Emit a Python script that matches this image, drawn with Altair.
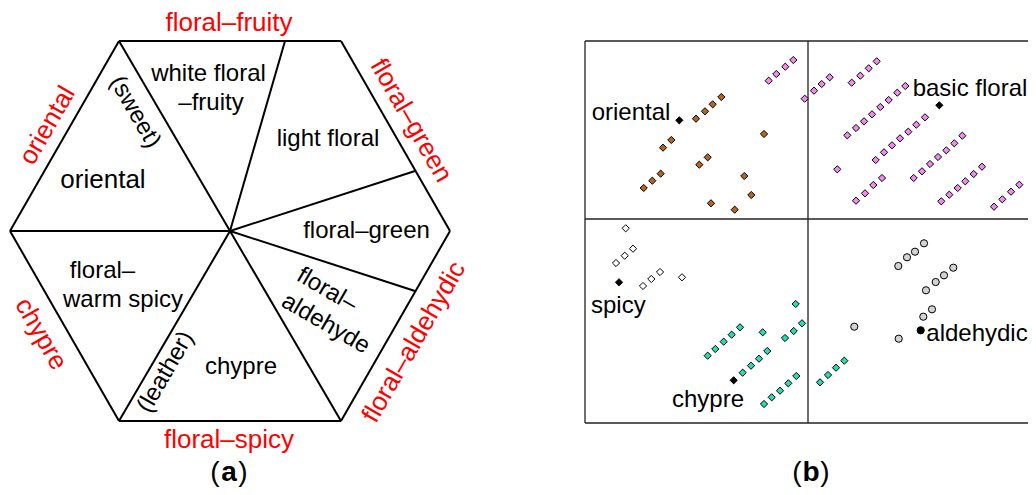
import altair as alt
import pandas as pd

# ---------------- panel (a): hexagon geometry (reference pixel units) -------------
hex_x = [119, 341, 450, 341, 119, 10]
hex_y = [43, 43, 233, 423, 423, 233]
center_x, center_y = 230, 233
spoke_x = [119, 285, 415, 415, 341, 119, 10]
spoke_y = [43, 43, 173, 293, 423, 423, 233]

# ---------------- panel (b): frame ----------------
box_left, box_right, box_top, box_bottom = 585, 1045, 43, 425
div_x, div_y = 808, 221

# ---------------- panel (b): scatter data ----------------
oriental_x = [696, 705, 712.7, 721.3, 663, 671.3, 764, 699.3, 707.7, 643.7, 652.3, 660.7, 744.3, 751.3, 711, 734.7]
oriental_y = [120.7, 113.3, 106.3, 99, 149.7, 142, 136, 166.7, 159.3, 190, 182.7, 175.7, 178, 197, 205.3, 211.7]

floral_x = [768.7, 776.3, 785.3, 793.3, 804.7, 814, 821.7, 829.7, 851.7, 860.3, 868.7, 876.7,
            847.3, 856, 864, 872, 880.3, 888.7, 897.3, 905.3,
            875.7, 884, 892, 900, 908.3, 916.3, 925,
            837.3,
            856, 865, 873.3, 882,
            913.7, 922, 930, 938, 946.3, 954.3, 962.3,
            941.3, 949.3, 957.7, 965.3, 973.7, 982,
            994, 1002.3, 1011, 1019.3]
floral_y = [82.7, 76, 68.7, 62, 100.7, 92.7, 86, 79.3, 84.7, 77.7, 70.3, 63.3,
            137.3, 130, 123.3, 116.3, 109, 102, 94.7, 88,
            162, 154.3, 147.3, 140.3, 133.7, 126.7, 119.3,
            171.3,
            202.7, 195.3, 187, 180,
            180, 173.3, 166, 159, 152.3, 145.3, 137.7,
            203.3, 196.7, 190, 183.3, 176, 168.7,
            208.7, 201.3, 193.7, 186.7]

spicy_x = [625.7, 616, 624.7, 633, 643, 651.3, 660, 682]
spicy_y = [230.3, 265, 257.7, 250.7, 288, 281, 274, 279.3]

chypre_x = [795.7, 802, 793.7, 785, 762.7, 707.7, 715.3, 723.7, 731.7, 740,
            742.7, 751, 759, 767.3, 764, 771.7, 780, 788.3, 796.3,
            820, 828, 836, 844.3]
chypre_y = [306, 325.3, 333, 340, 334.3, 357.7, 351, 343.7, 336.7, 329.3,
            374.7, 367.7, 360.7, 353, 406, 399.3, 392.7, 385.3, 378,
            384.3, 377, 369.7, 362.7]

aldehydic_x = [854.3, 898.3, 907, 915, 924, 926, 935.7, 944, 953.3, 923.3, 932, 898.7]
aldehydic_y = [328.7, 268, 259.3, 253.7, 245.3, 292.3, 284, 277.3, 269.7, 318.7, 311.3, 340.7]

ref_names = ["oriental", "basic floral", "spicy", "chypre", "aldehydic"]
ref_x = [679.3, 939.3, 619, 733.7, 920.7]
ref_y = [122.3, 107.3, 284.3, 382.3, 332.3]

# ---------------- texts ----------------
flat_labels = ["floral–fruity", "floral–spicy",
               "white floral", "–fruity", "oriental", "light floral", "floral–green",
               "floral–", "warm spicy", "chypre",
               "oriental", "basic floral", "spicy", "chypre", "aldehydic",
               "(", ")", "(", ")"]
flat_x = [229, 229, 208.5, 211, 103, 328, 366.5, 102.5, 123, 241,
          631, 970, 618.3, 708, 977, 215, 243, 797, 825]
flat_y = [33, 450, 83, 112, 190, 148, 240, 280, 309, 376,
          122, 98, 315, 409, 343, 483, 483, 483, 483]
flat_size = [26, 26, 24, 24, 26, 24, 24, 24, 24, 24,
             24, 24, 24, 24, 24, 28, 28, 28, 28]
flat_red = [True, True] + [False] * 17

rot_labels = ["oriental", "floral–green", "floral–aldehydic", "chypre",
              "(sweet)", "(leather)", "floral–", "aldehyde"]
rot_x = [47.5, 411, 414, 41, 135, 165.7, 327, 325.7]
rot_y = [127.5, 122.5, 344, 336, 114, 374, 292, 325.7]
rot_angle = [300, 60, 300, 60, 60, 300, 30, 30]
rot_red = [True, True, True, True, False, False, False, False]

bold_labels = ["a", "b"]
bold_x = [229, 811]
bold_y = [483, 483]

# ---------------- build tables ----------------
RED, BLACK = "#ff0000", "#000000"

seg_rows = []
n = len(hex_x)
for i in range(n):
    seg_rows.append(dict(x=hex_x[i], y=hex_y[i], x2=hex_x[(i + 1) % n], y2=hex_y[(i + 1) % n]))
for sx, sy in zip(spoke_x, spoke_y):
    seg_rows.append(dict(x=center_x, y=center_y, x2=sx, y2=sy))
segs = pd.DataFrame(seg_rows)

box = pd.DataFrame([
    dict(x=box_left, y=box_top, x2=box_right, y2=box_top),
    dict(x=box_left, y=box_bottom, x2=box_right, y2=box_bottom),
    dict(x=box_left, y=box_top, x2=box_left, y2=box_bottom),
    dict(x=div_x, y=box_top, x2=div_x, y2=box_bottom),
    dict(x=box_left, y=div_y, x2=box_right, y2=div_y),
])

pt_rows = []
def add(xs, ys, fill, shape):
    for a, b in zip(xs, ys):
        pt_rows.append(dict(x=a, y=b, fill=fill, shape=shape))
add(floral_x, floral_y, "#f28cf2", "diamond")
add(oriental_x, oriental_y, "#b5651d", "diamond")
add(spicy_x, spicy_y, "#ffffff", "diamond")
add(chypre_x, chypre_y, "#22dfb5", "diamond")
add(aldehydic_x, aldehydic_y, "#d3d3d3", "circle")
add(ref_x[:4], ref_y[:4], "#000000", "diamond")
add(ref_x[4:], ref_y[4:], "#000000", "circle")
pts = pd.DataFrame(pt_rows)

flat = pd.DataFrame(dict(label=flat_labels, x=flat_x, y=flat_y,
                         col=[RED if r else BLACK for r in flat_red],
                         fs=flat_size))
rot = pd.DataFrame(dict(label=rot_labels, x=rot_x, y=rot_y, ang=rot_angle,
                        col=[RED if r else BLACK for r in rot_red],
                        fs=[26 if r else 24 for r in rot_red]))
bold = pd.DataFrame(dict(label=bold_labels, x=bold_x, y=bold_y))

# ---------------- scales ----------------
W, H = 1020, 479
Y0 = 10
xs = alt.Scale(domain=[8, 8 + W], nice=False, zero=False)
ys = alt.Scale(domain=[Y0, Y0 + H], nice=False, zero=False, reverse=True)

def X(f="x"):
    return alt.X(f"{f}:Q", scale=xs, axis=None)

def Y(f="y"):
    return alt.Y(f"{f}:Q", scale=ys, axis=None)

FONT = "Liberation Sans"

hexagon = alt.Chart(segs).mark_rule(color="black", strokeWidth=2).encode(
    x=X(), y=Y(), x2="x2:Q", y2="y2:Q")
frame = alt.Chart(box).mark_rule(color="#222222", strokeWidth=1.3).encode(
    x=X(), y=Y(), x2="x2:Q", y2="y2:Q")
points = alt.Chart(pts).mark_point(filled=True, stroke="black", strokeWidth=1,
                                   size=52, opacity=1).encode(
    x=X(), y=Y(),
    fill=alt.Fill("fill:N", scale=None),
    shape=alt.Shape("shape:N", scale=None))
flat_text = alt.Chart(flat).mark_text(font=FONT, baseline="alphabetic", align="center").encode(
    x=X(), y=Y(), text="label:N",
    color=alt.Color("col:N", scale=None),
    size=alt.Size("fs:Q", scale=None))
rot_text = alt.Chart(rot).mark_text(font=FONT, baseline="middle", align="center").encode(
    x=X(), y=Y(), text="label:N",
    angle=alt.Angle("ang:Q", scale=None),
    color=alt.Color("col:N", scale=None),
    size=alt.Size("fs:Q", scale=None))
bold_text = alt.Chart(bold).mark_text(font=FONT, baseline="alphabetic", align="center",
                                      fontWeight="bold", fontSize=28, color="black").encode(
    x=X(), y=Y(), text="label:N")

chart = alt.layer(hexagon, frame, points, flat_text, rot_text, bold_text).properties(
    width=W, height=H, padding=0, autosize=alt.AutoSizeParams(type="none")
).configure_view(stroke=None)

chart.save("out.html", embed_options={"renderer": "svg", "actions": False})
